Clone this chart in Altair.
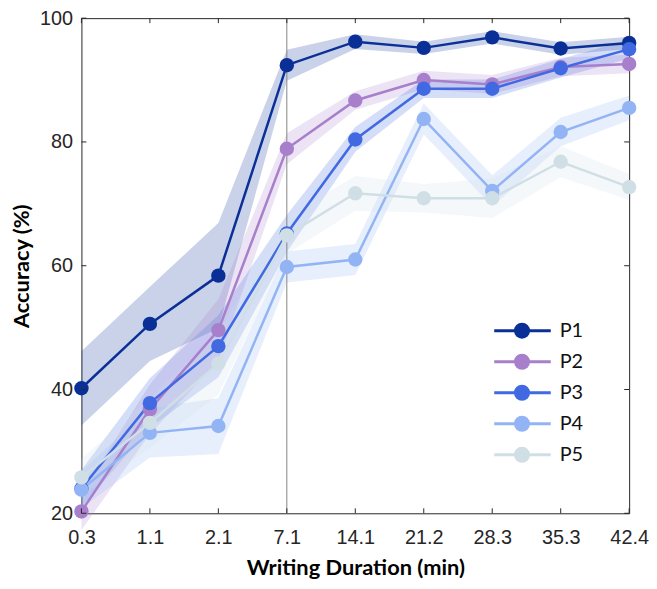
import altair as alt
import pandas as pd

# ---- data ----
durations = ["0.3", "1.1", "2.1", "7.1", "14.1", "21.2", "28.3", "35.3", "42.4"]
series_names = ["P1", "P2", "P3", "P4", "P5"]
series_colors = ["#0A3097", "#A77FCB", "#4169E1", "#93B4F4", "#D0DFE6"]

p1 = [40.2, 50.6, 58.4, 92.4, 96.2, 95.2, 96.9, 95.1, 96.0]
p2 = [20.3, 36.8, 49.6, 78.9, 86.7, 90.0, 89.3, 92.1, 92.6]
p3 = [24.0, 37.8, 47.0, 65.2, 80.4, 88.6, 88.6, 91.9, 95.0]
p4 = [23.8, 33.0, 34.1, 59.8, 61.0, 83.7, 72.1, 81.6, 85.5]
p5 = [25.8, 34.6, 44.2, 64.9, 71.7, 70.9, 70.9, 76.8, 72.7]

p1_err = [6.0, 6.0, 8.5, 2.5, 1.2, 1.0, 1.0, 1.0, 1.0]
p2_err = [3.0, 4.0, 5.0, 2.5, 1.5, 1.5, 1.5, 1.5, 1.5]
p3_err = [3.0, 4.0, 5.0, 3.0, 2.0, 1.5, 1.5, 1.5, 1.5]
p4_err = [3.0, 4.0, 4.5, 2.5, 2.5, 2.5, 2.5, 2.3, 2.0]
p5_err = [3.0, 4.0, 5.0, 3.0, 2.8, 2.3, 3.2, 2.5, 2.1]

y_ticks = [20, 40, 60, 80, 100]
marker_line = ["7.1"]

values = [p1, p2, p3, p4, p5]
errors = [p1_err, p2_err, p3_err, p4_err, p5_err]

rows = []
for name, vals, errs in zip(series_names, values, errors):
    for d, v, e in zip(durations, vals, errs):
        rows.append({"series": name, "dur": d, "acc": v, "lo": v - e, "hi": v + e,
                     "order": series_names.index(name)})
df = pd.DataFrame(rows)

W, H = 552, 499
AX = "#262626"

xenc = alt.X("dur:O", sort=durations, scale=alt.Scale(type="point", padding=0),
             axis=alt.Axis(title="Writing Duration (min)", labelAngle=0, tickSize=0,
                           labelPadding=14, titlePadding=11, domain=False))
yscale = alt.Scale(domain=[20, 100], nice=False, zero=False)
yenc = alt.Y("acc:Q", scale=yscale,
             axis=alt.Axis(title="Accuracy (%)", values=y_ticks, tickSize=0, labelPadding=9,
                           titlePadding=6, grid=False, domain=False))
cscale = alt.Scale(domain=series_names, range=series_colors)
cenc = alt.Color("series:N", scale=cscale, legend=None)

base = alt.Chart(df)

bands = base.mark_area(opacity=0.22).encode(
    x=xenc, y=alt.Y("lo:Q", scale=yscale), y2="hi:Q", color=cenc,
    detail="series:N")

vline = alt.Chart(pd.DataFrame({"dur": marker_line})).mark_rule(
    color="#858585", strokeWidth=1).encode(
    x=alt.X("dur:O", sort=durations), y=alt.datum(20), y2=alt.datum(100))

lines = base.mark_line(strokeWidth=2.5).encode(x=xenc, y=yenc, color=cenc,
                                                order="order:Q")
points = base.mark_circle(size=210, opacity=1).encode(x=xenc, y=yenc, color=cenc)

# inward ticks
xt = pd.DataFrame({"dur": durations})
yt = pd.DataFrame({"v": y_ticks})
tick_b = alt.Chart(xt).mark_rule(color=AX, strokeWidth=1).encode(
    x=alt.X("dur:O", sort=durations), y=alt.value(H), y2=alt.value(H - 5))
tick_t = alt.Chart(xt).mark_rule(color=AX, strokeWidth=1).encode(
    x=alt.X("dur:O", sort=durations), y=alt.value(0), y2=alt.value(5))
tick_l = alt.Chart(yt).mark_rule(color=AX, strokeWidth=1).encode(
    y=alt.Y("v:Q", scale=yscale), x=alt.value(0), x2=alt.value(5))
tick_r = alt.Chart(yt).mark_rule(color=AX, strokeWidth=1).encode(
    y=alt.Y("v:Q", scale=yscale), x=alt.value(W), x2=alt.value(W - 5))

main = alt.layer(bands, vline, lines, points, tick_b, tick_t, tick_l, tick_r)

# legend
leg_df = pd.DataFrame({"series": series_names})
ly = alt.Y("series:N", sort=series_names,
           scale=alt.Scale(type="point", range=[315, 440], padding=0), axis=None)
leg_line = alt.Chart(leg_df).mark_rule(strokeWidth=3).encode(
    y=ly, x=alt.value(416), x2=alt.value(473), color=cenc)
leg_pt = alt.Chart(leg_df).mark_circle(size=260, opacity=1).encode(
    y=ly, x=alt.value(444), color=cenc)
leg_txt = alt.Chart(leg_df).mark_text(align="left", baseline="middle", font="Lato",
                                      fontSize=20, color="#111111").encode(
    y=ly, x=alt.value(482), text="series:N")
legend = alt.layer(leg_line, leg_pt, leg_txt)

chart = alt.layer(main, legend).resolve_scale(y="independent").properties(
    width=W, height=H,
    autosize=alt.AutoSizeParams(type="none"),
    padding={"left": 74, "top": 8, "right": 20, "bottom": 66},
).configure_view(stroke=AX, strokeWidth=1).configure_axis(
    labelFont="Liberation Sans", labelFontSize=20, labelColor=AX,
    titleFont="Lato", titleFontWeight="bold", titleFontSize=22, titleColor="#000000",
)

chart.save("out.html", embed_options={"renderer": "svg", "actions": False})
